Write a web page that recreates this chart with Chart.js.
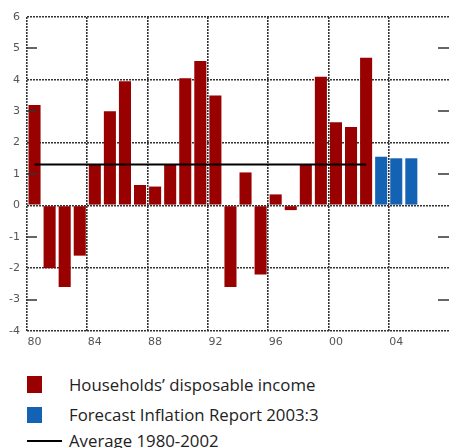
<!DOCTYPE html>
<html>
<head>
<meta charset="utf-8">
<script src="https://cdn.jsdelivr.net/npm/chart.js@4/dist/chart.umd.min.js"></script>
<style>
    html, body { margin: 0; padding: 0; background: #fff; }
    #wrap { position: relative; width: 449px; height: 448px; overflow: hidden; }
    #chart { position: absolute; left: 0; top: 0; }
    .leg { position: absolute; left: 0; width: 449px; height: 20px; font-family: 'Open Sans', 'Noto Sans', sans-serif; font-size: 16.8px; color: #222; }
    .leg .sw { position: absolute; left: 27px; }
    .leg .tx { position: absolute; left: 69px; top: 0; line-height: 20px; white-space: nowrap; }
</style>
</head>
<body>
<div id="wrap">
    <canvas id="chart" width="449" height="355"></canvas>
    <div id="legend"></div>
</div>
<script>
    // Inkomster, årlig procentuell förändring
    const years = ['80', '81', '82', '83', '84', '85', '86', '87', '88', '89',
        '90', '91', '92', '93', '94', '95', '96', '97', '98', '99',
        '00', '01', '02', '03', '04', '05', '06', '07'];
    const income = [3.2, -2.0, -2.6, -1.6, 1.3, 3.0, 3.95, 0.65, 0.6, 1.3,
        4.05, 4.6, 3.5, -2.6, 1.05, -2.2, 0.35, -0.15, 1.3, 4.1,
        2.65, 2.5, 4.7, null, null, null, null, null];
    const forecast = [null, null, null, null, null, null, null, null, null, null,
        null, null, null, null, null, null, null, null, null, null,
        null, null, null, 1.55, 1.5, 1.5, null, null];
    const average = [1.3, 1.3, 1.3, 1.3, 1.3, 1.3, 1.3, 1.3, 1.3, 1.3,
        1.3, 1.3, 1.3, 1.3, 1.3, 1.3, 1.3, 1.3, 1.3, 1.3,
        1.3, 1.3, 1.3, null, null, null, null, null];
    const yTicks = [-4, -3, -2, -1, 0, 1, 2, 3, 4, 5, 6];

    const red = '#990000';
    const blue = '#1462b4';
    const gridDark = '#333';
    const tickColor = '#555';

    // små streck vid udda värden, innanför ramen
    const minorTicks = {
        id: 'minorTicks',
        afterDatasetsDraw(chart) {
            const { ctx, chartArea, scales } = chart;
            ctx.save();
            ctx.strokeStyle = '#333';
            ctx.lineWidth = 1.5;
            yTicks.filter(v => v % 2 !== 0).forEach(v => {
                const y = Math.round(scales.y.getPixelForValue(v));
                ctx.beginPath();
                ctx.moveTo(chartArea.left, y);
                ctx.lineTo(chartArea.left + 10, y);
                ctx.moveTo(chartArea.right - 11, y);
                ctx.lineTo(chartArea.right, y);
                ctx.stroke();
            });
            ctx.restore();
        }
    };

    const chart = new Chart(document.getElementById('chart'), {
        type: 'bar',
        data: {
            labels: years,
            datasets: [
                {
                    label: 'Households\u2019 disposable income',
                    data: income,
                    backgroundColor: red,
                    barPercentage: 0.8,
                    categoryPercentage: 1,
                    order: 2,
                },
                {
                    label: 'Forecast Inflation Report 2003:3',
                    data: forecast,
                    backgroundColor: blue,
                    barPercentage: 0.8,
                    categoryPercentage: 1,
                    order: 2,
                },
                {
                    type: 'line',
                    label: 'Average 1980-2002',
                    data: average,
                    borderColor: '#000',
                    borderWidth: 2,
                    pointRadius: 0,
                    fill: false,
                    order: 1,
                },
            ],
        },
        options: {
            responsive: false,
            animation: false,
            layout: { padding: { top: 17, left: 0, right: 0, bottom: 0 } },
            datasets: { bar: { grouped: false } },
            plugins: {
                legend: { display: false },
                tooltip: { enabled: false },
            },
            scales: {
                x: {
                    afterFit(scale) { scale.height = 24; },
                    grid: {
                        offset: true,
                        drawTicks: false,
                        color: ctx => (ctx.index % 4 === 0 ? gridDark : 'rgba(0,0,0,0)'),
                        lineWidth: 1.6,
                    },
                    border: { display: false, dash: [2, 1] },
                    ticks: {
                        autoSkip: false,
                        maxRotation: 0,
                        padding: 5,
                        color: tickColor,
                        font: { family: 'DejaVu Sans', size: 11 },
                        callback: (v, i) => (i % 4 === 0 ? years[i] : ''),
                    },
                },
                y: {
                    min: -4,
                    max: 6,
                    afterFit(scale) { scale.width = 27; },
                    afterBuildTicks(scale) { scale.ticks = yTicks.map(v => ({ value: v })); },
                    grid: {
                        drawTicks: false,
                        color: ctx => (ctx.tick && ctx.tick.value % 2 === 0 ? gridDark : 'rgba(0,0,0,0)'),
                        lineWidth: 1.6,
                    },
                    border: { display: false, dash: [2, 1] },
                    ticks: {
                        padding: 7,
                        color: tickColor,
                        font: { family: 'DejaVu Sans', size: 11 },
                    },
                },
            },
        },
        plugins: [minorTicks],
    });

    // legend under the chart
    const legend = document.getElementById('legend');
    const rows = [
        { top: 375, swatch: 'left:27px;top:1px;width:15px;height:17px;background:' + red },
        { top: 405, swatch: 'left:27px;top:2px;width:15px;height:16px;background:' + blue },
        { top: 431, swatch: 'left:27px;top:9px;width:35px;height:2px;background:#000' },
    ];
    chart.data.datasets.forEach((ds, i) => {
        const row = document.createElement('div');
        row.className = 'leg';
        row.style.top = rows[i].top + 'px';
        row.innerHTML = '<div class="sw" style="' + rows[i].swatch + '"></div><div class="tx"></div>';
        row.querySelector('.tx').textContent = ds.label;
        legend.appendChild(row);
    });
</script>
</body>
</html>
